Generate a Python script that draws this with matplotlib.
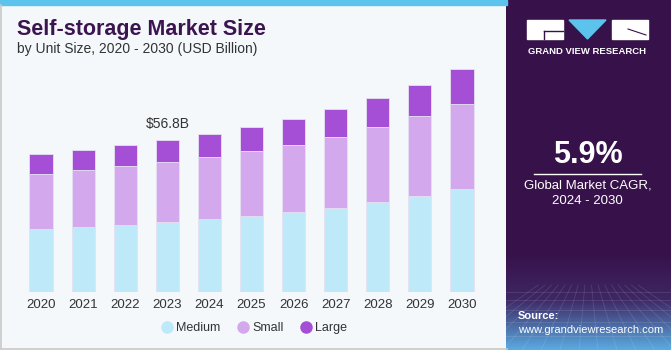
import matplotlib.pyplot as plt
import numpy as np
from matplotlib.lines import Line2D
from matplotlib.patches import Rectangle, Polygon

years = ["2020", "2021", "2022", "2023", "2024", "2025", "2026", "2027", "2028", "2029", "2030"]
medium = [23.4, 24.2, 24.9, 26.0, 27.2, 28.4, 29.7, 31.4, 33.4, 35.8, 38.4]
small = [20.6, 21.2, 21.9, 22.3, 23.1, 24.2, 25.3, 26.5, 28.0, 29.8, 31.9]
large = [7.5, 7.6, 8.0, 8.5, 8.8, 9.1, 9.7, 10.4, 11.0, 11.8, 12.9]
series_names = ["Medium", "Small", "Large"]
series_colors = ["#BDE9F9", "#D4A8EC", "#A54FD6"]
highlight_year = "2023"
highlight_label = "$56.8B"

W, H = 671, 350
bg = "#F4F8FB"
purple_dark = "#37124A"

plt.rcParams['font.family'] = ['Liberation Sans', 'DejaVu Sans']

fig = plt.figure(figsize=(W / 100, H / 100), dpi=100)
fig.patch.set_facecolor(bg)


def fx(x):
    return x / W


def fy(y):
    return 1 - y / H


# main bar axes
ax = fig.add_axes([fx(20), fy(291.7), 463 / W, 240.8 / H])
ax.set_facecolor("none")
x = np.arange(len(years))
bottom = np.zeros(len(years))
for vals, col in zip([medium, small, large], series_colors):
    ax.bar(x, vals, bottom=bottom, width=0.55, color=col,
           edgecolor="#E6E0F2", linewidth=0.6)
    bottom += np.array(vals)
ax.set_xlim(-0.5, len(years) - 0.5)
ax.set_ylim(0, 90)
ax.set_xticks(x)
ax.set_xticklabels(years, fontsize=9.5, color="#333333")
ax.tick_params(axis="x", length=0, pad=5.5)
ax.set_yticks([])
for s in ax.spines.values():
    s.set_visible(False)

i = years.index(highlight_year)
ax.text(x[i], bottom[i] + 3.2, highlight_label, ha="center", va="bottom",
        fontsize=10, color="#333333")

# legend
handles = [Line2D([], [], marker="o", linestyle="", markersize=8,
                  markerfacecolor=c, markeredgecolor=c) for c in series_colors]
fig.legend(handles, series_names, loc="center", bbox_to_anchor=(fx(254), fy(328)),
           ncol=3, frameon=False, fontsize=9, handletextpad=0.25,
           columnspacing=1.3, handlelength=1.0, labelcolor="#333333")

# titles
fig.text(fx(17), fy(30), "Self-storage Market Size", fontsize=15.5, fontweight="heavy",
         color="#3B1450", va="center", ha="left")
fig.text(fx(17), fy(49), "by Unit Size, 2020 - 2030 (USD Billion)", fontsize=10,
         color="#333333", va="center", ha="left")

# top strip and borders
fig.patches.append(Rectangle((0, fy(5)), fx(507), 5 / H, transform=fig.transFigure,
                             color="#5BC3EC", zorder=0))
fig.add_artist(Line2D([fx(0.6), fx(0.6)], [fy(348), fy(5)], color="#C8C8C8", lw=1.2))
fig.add_artist(Line2D([0, fx(507)], [fy(348.5), fy(348.5)], color="#C8C8C8", lw=1.2))

# right panel
pax = fig.add_axes([fx(506), 0, (W - 506) / W, 1])
pax.set_xlim(0, W - 506)
pax.set_ylim(H, 0)
pax.axis("off")
rows = np.linspace(0, H, 350)
top_c = np.array([55, 18, 74]) / 255
mid_c = np.array([62, 40, 100]) / 255
bot_c = np.array([90, 170, 225]) / 255
grad = np.zeros((350, 1, 3))
for k, r in enumerate(rows):
    if r < 255:
        grad[k, 0] = top_c
    elif r < 300:
        t = (r - 255) / 45
        grad[k, 0] = top_c * (1 - t) + mid_c * t
    else:
        t = (r - 300) / 50
        grad[k, 0] = mid_c * (1 - t) + bot_c * t
pax.imshow(grad, extent=(0, W - 506, H, 0), aspect="auto", zorder=0)
# faint grid in lower part
for gx in np.linspace(-60, 225, 16):
    pax.plot([82 + (gx - 82) * 0.35, gx], [285, H], color="white", alpha=0.12, lw=0.6)
for gy in [292, 300, 310, 322, 336]:
    pax.plot([0, W - 506], [gy, gy], color="white", alpha=0.12, lw=0.6)

# logo
pax.add_patch(Rectangle((527 - 506, 20), 36, 19, color="white"))
pax.add_patch(Polygon([[569 - 506, 20], [606 - 506, 20], [587.5 - 506, 39]], color="#5BC3EC"))
pax.add_patch(Rectangle((612 - 506, 20), 36, 19, color="white"))
pax.plot([544 - 506, 563 - 506], [31, 31], color=purple_dark, lw=1)
pax.plot([544 - 506, 544 - 506], [31, 39], color=purple_dark, lw=1)
pax.plot([628 - 506, 646 - 506], [29, 35], color=purple_dark, lw=0.8)
pax.text(587.5 - 506, 51, "GRAND VIEW RESEARCH", color="white", fontsize=6.8,
         fontweight="bold", ha="center", va="center")

pax.text(587.5 - 506, 155, "5.9%", color="white", fontsize=22, fontweight="bold",
         ha="center", va="center")
pax.plot([534 - 506, 641 - 506], [173.5, 173.5], color="white", lw=1)
pax.text(587.5 - 506, 186, "Global Market CAGR,", color="white", fontsize=9.5,
         ha="center", va="center")
pax.text(587.5 - 506, 201, "2024 - 2030", color="white", fontsize=9.5,
         ha="center", va="center")
pax.text(518 - 506, 316, "Source:", color="white", fontsize=8, fontweight="bold",
         ha="left", va="center")
pax.text(518 - 506, 330, "www.grandviewresearch.com", color="white", fontsize=8,
         ha="left", va="center")

fig.savefig("out.png", dpi=100, facecolor=fig.get_facecolor())
